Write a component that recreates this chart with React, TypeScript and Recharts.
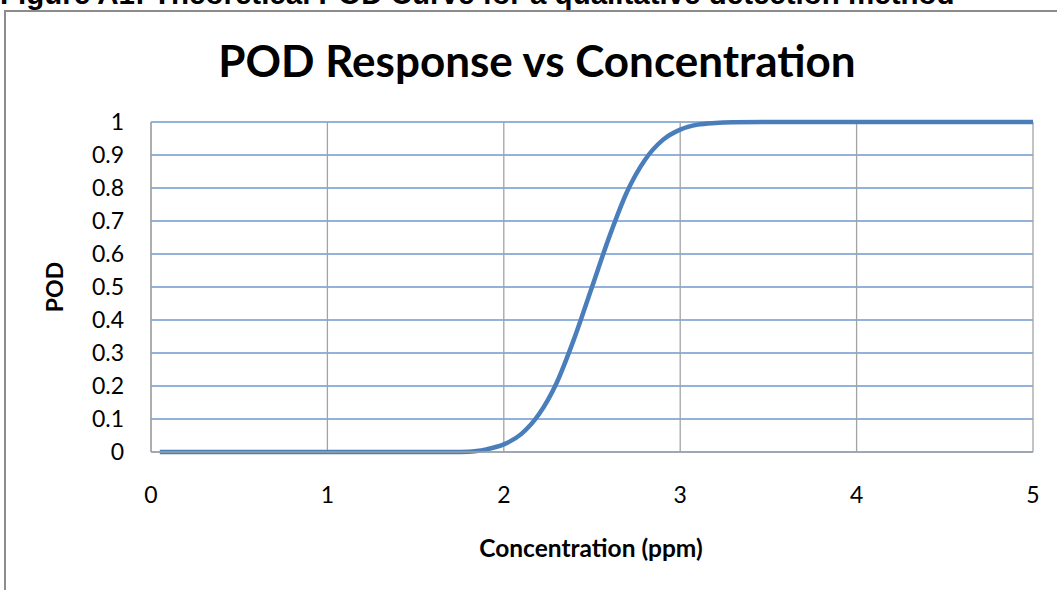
import React from "react";
import { LineChart, Line, XAxis, YAxis, CartesianGrid } from "recharts";

const concentration = [0.05, 0.5, 1.0, 1.5, 1.7, 1.8, 1.9, 2.0, 2.1, 2.2, 2.3, 2.4, 2.5, 2.6, 2.7, 2.8, 2.9, 3.0, 3.1, 3.2, 3.3, 3.5, 4.0, 4.5, 5.0];
const podValues = [0, 0, 0, 0, 0.0003, 0.001, 0.008, 0.023, 0.055, 0.115, 0.21, 0.345, 0.5, 0.655, 0.79, 0.885, 0.945, 0.977, 0.992, 0.997, 0.999, 1, 1, 1, 1];
const xTicks = [0, 1, 2, 3, 4, 5];
const yTicks = [0, 0.1, 0.2, 0.3, 0.4, 0.5, 0.6, 0.7, 0.8, 0.9, 1];

const data = concentration.map((c, i) => ({ c, pod: podValues[i] }));

const FONT = "Lato, 'Open Sans', sans-serif";

export default function App() {
  return (
    <div style={{ position: "absolute", left: 0, top: 0, width: 1057, height: 590, overflow: "hidden", background: "#fff" }}>
      <div style={{ position: "absolute", left: 4, top: 10, width: 1100, height: 700, border: "2px solid #8c8c8c", boxSizing: "border-box" }} />
      <div style={{ position: "absolute", left: 0, top: 0 }}>
        <LineChart width={1057} height={590} data={data} margin={{ top: 122, right: 24, bottom: 78, left: 91 }}>
          <CartesianGrid horizontal={true} vertical={false} stroke="#6f98cc" strokeWidth={1.3} />
          <CartesianGrid horizontal={false} vertical={true} stroke="#a3a3a3" strokeWidth={1.3} />
          <XAxis
            type="number"
            dataKey="c"
            domain={[0, 5]}
            ticks={xTicks}
            height={60}
            tickLine={false}
            tickSize={0}
            tickMargin={35}
            axisLine={{ stroke: "#a3a3a3", strokeWidth: 1.3 }}
            tick={{ fill: "#000", fontSize: 23, fontFamily: FONT }}
            interval={0}
          />
          <YAxis
            type="number"
            domain={[0, 1]}
            ticks={yTicks}
            width={60}
            tickLine={false}
            tickSize={0}
            tickMargin={27}
            axisLine={{ stroke: "#a3a3a3", strokeWidth: 1.3 }}
            tick={{ fill: "#000", fontSize: 23, fontFamily: FONT }}
            interval={0}
          />
          <Line
            type="monotone"
            dataKey="pod"
            stroke="#4a7ebb"
            strokeWidth={4.5}
            dot={false}
            isAnimationActive={false}
          />
        </LineChart>
      </div>
      <svg width={1057} height={590} style={{ position: "absolute", left: 0, top: 0, pointerEvents: "none" }}>
        <text x={0} y={3.5} fontFamily="'Liberation Sans', Arial, sans-serif" fontWeight="bold" fontSize={29.5} fill="#000">
          Figure A1: Theoretical POD Curve for a qualitative detection method
        </text>
        <text x={537} y={77} textAnchor="middle" fontFamily={FONT} fontWeight="bold" fontSize={44} fill="#000">
          POD Response vs Concentration
        </text>
        <text x={591} y={557} textAnchor="middle" fontFamily={FONT} fontWeight="bold" fontSize={24.5} fill="#000">
          Concentration (ppm)
        </text>
        <text x={63} y={287} textAnchor="middle" transform="rotate(-90 63 287)" fontFamily={FONT} fontWeight="bold" fontSize={23} fill="#000">
          POD
        </text>
      </svg>
    </div>
  );
}
